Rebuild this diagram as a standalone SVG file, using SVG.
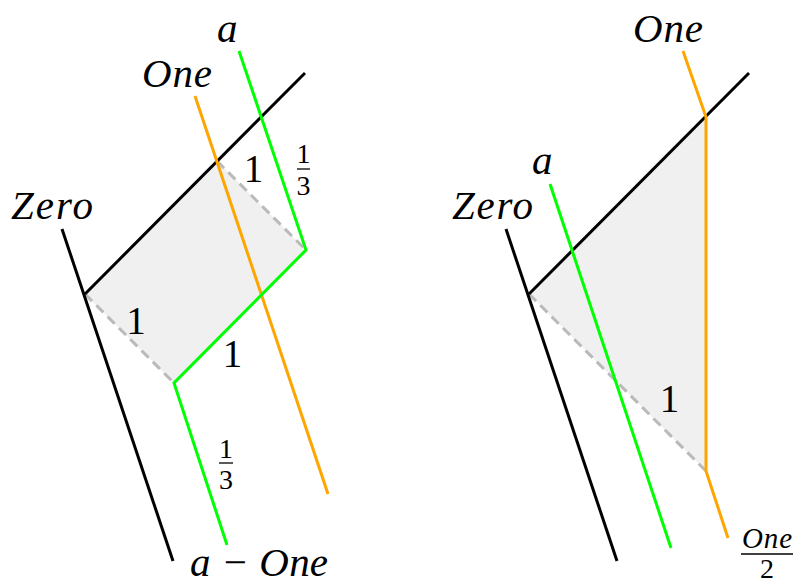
<svg xmlns="http://www.w3.org/2000/svg" width="797" height="584" viewBox="0 0 797 584">
<style>
.fill{fill:#f0f0f0;stroke:none}
.dash{fill:none;stroke:#bababa;stroke-width:3;stroke-dasharray:10 6}
.blk{fill:none;stroke:#000;stroke-width:3;stroke-linecap:butt;stroke-linejoin:round}
.org{fill:none;stroke:#ffa500;stroke-width:3;stroke-linejoin:miter}
.grn{fill:none;stroke:#00ff00;stroke-width:3;stroke-linejoin:miter}
.var{font-family:"Liberation Serif","Times New Roman",serif;font-style:italic;font-size:41px;fill:#000}
.num{font-family:"Liberation Serif","Times New Roman",serif;font-size:39px;fill:#000;text-anchor:middle}
.small{font-family:"Liberation Serif","Times New Roman",serif;font-size:28px;fill:#000;text-anchor:middle}
.smallvar{font-family:"Liberation Serif","Times New Roman",serif;font-style:italic;font-size:29px;fill:#000}
.bar{stroke:#000;stroke-width:1.3}
</style>

<g id="left-area">
<polygon class="fill" points="85,294 217,161 306,250 174,383"/>
</g>
<g id="right-area">
<polygon class="fill" points="529,294 706,116 706,471"/>
</g>

<g id="connectors">
<line class="dash" x1="217" y1="161" x2="306" y2="250"/>
<line class="dash" x1="85" y1="294" x2="174" y2="383"/>
<line class="dash" x1="529" y1="294" x2="706" y2="471"/>
<line class="blk" x1="62" y1="229" x2="173" y2="561"/>
<line class="blk" x1="85" y1="294" x2="305" y2="73"/>
<line class="org" x1="195" y1="96" x2="328" y2="494"/>
<polyline class="grn" points="239,51 306,250 174,383 227,545"/>
<line class="blk" x1="506" y1="229" x2="617" y2="561"/>
<line class="blk" x1="529" y1="294" x2="749" y2="73"/>
<polyline class="org" points="683,51 706,117 706,471 728,538"/>
<line class="grn" x1="550" y1="184" x2="671" y2="548"/>
</g>

<g id="left-labels">
<text class="var" x="217" y="42">a</text>
<text class="var" x="142" y="87" textLength="70" lengthAdjust="spacing">One</text>
<text class="var" x="11" y="219" textLength="82" lengthAdjust="spacing">Zero</text>
<text class="num" x="253.5" y="182">1</text>
<g id="frac-top">
<text class="small" x="303.5" y="163">1</text>
<line class="bar" x1="297" y1="169" x2="310" y2="169"/>
<text class="small" x="303.5" y="195">3</text>
</g>
<text class="num" x="136" y="334">1</text>
<text class="num" x="232.5" y="367">1</text>
<g id="frac-bottom">
<text class="small" x="226" y="458">1</text>
<line class="bar" x1="219" y1="463" x2="233" y2="463"/>
<text class="small" x="226" y="489">3</text>
</g>
<text class="var" x="190" y="576" font-size="38" textLength="138" lengthAdjust="spacing">a − One</text>
</g>

<g id="right-labels">
<text class="var" x="633" y="42" textLength="70" lengthAdjust="spacing">One</text>
<text class="var" x="532" y="174">a</text>
<text class="var" x="452" y="219" textLength="81" lengthAdjust="spacing">Zero</text>
<text class="num" x="669.5" y="412">1</text>
<g id="frac-one-half">
<text class="smallvar" x="742" y="548" textLength="50" lengthAdjust="spacing">One</text>
<line class="bar" x1="741" y1="554" x2="793" y2="554"/>
<text class="small" x="767" y="578">2</text>
</g>
</g>
</svg>
